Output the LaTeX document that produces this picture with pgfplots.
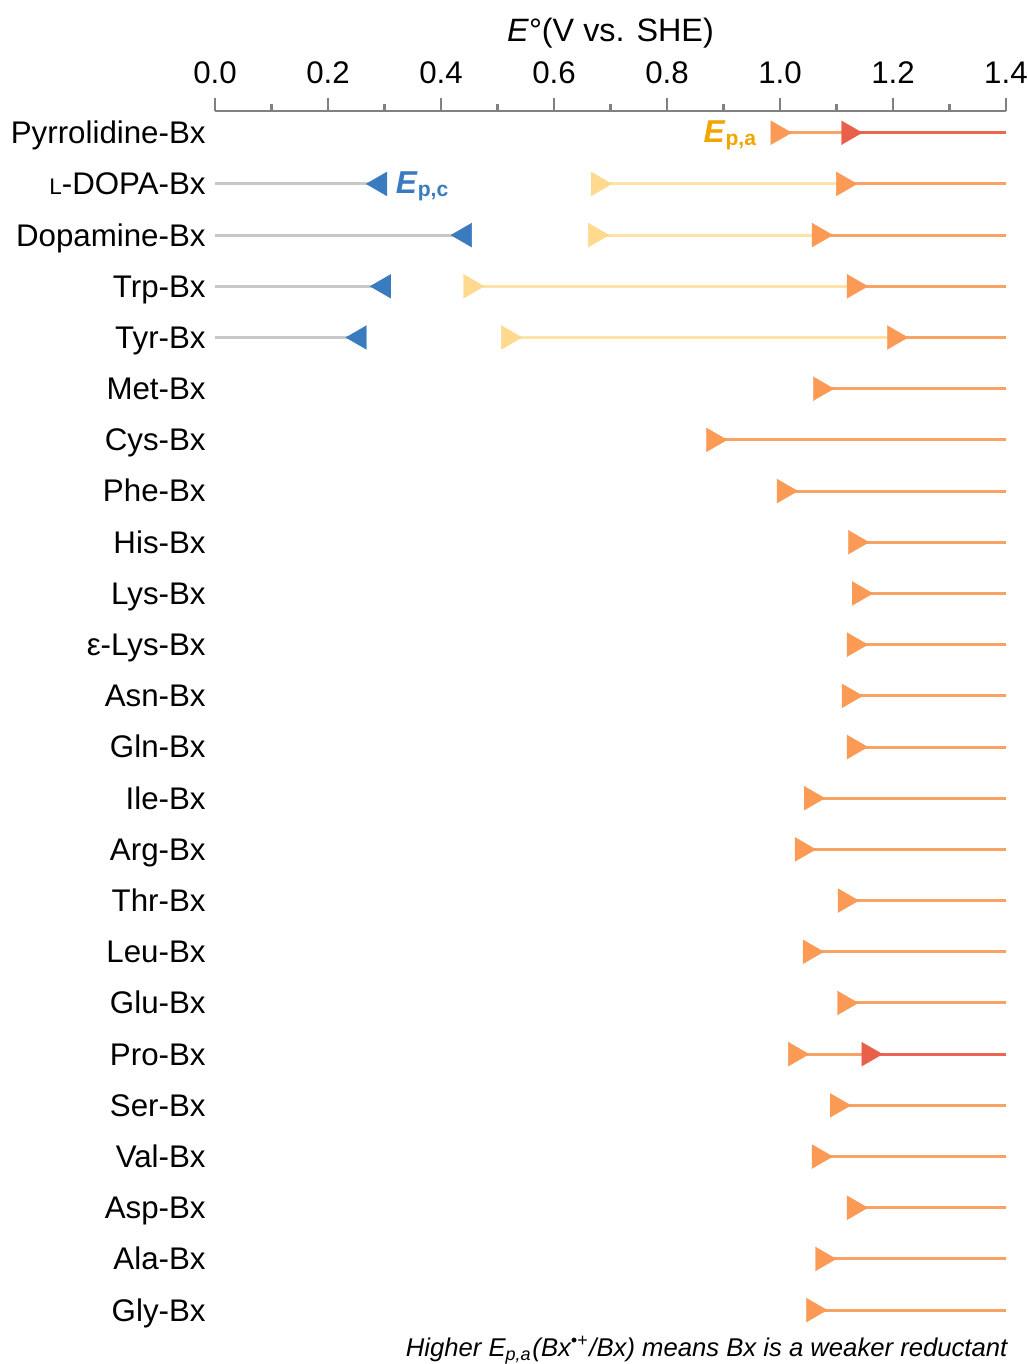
\documentclass[border=0pt]{standalone}
\usepackage{pgfplots}
\pgfplotsset{compat=1.18}
\usepackage{pgfplotstable}
\usepackage{fontspec}
\setmainfont{Liberation Sans}
\definecolor{grayline}{HTML}{C8C8C8}
\definecolor{bluem}{HTML}{3A7BBF}
\definecolor{yelm}{HTML}{FFD98E}
\definecolor{yell}{HTML}{FFE2A6}
\definecolor{orm}{HTML}{FA9A55}
\definecolor{orl}{HTML}{F9A266}
\definecolor{redm}{HTML}{E8604A}
\definecolor{redl}{HTML}{EC6552}
\definecolor{gold}{HTML}{F2A500}
\definecolor{axgray}{HTML}{808080}

% Ep,a (orange markers) for every compound
\pgfplotstableread{
row a
0 0.996
1 1.112
2 1.069
3 1.131
4 1.202
5 1.071
6 0.882
7 1.007
8 1.133
9 1.140
10 1.131
11 1.122
12 1.131
13 1.055
14 1.039
15 1.115
16 1.053
17 1.114
18 1.027
19 1.101
20 1.069
21 1.131
22 1.075
23 1.059
}\adata

% catechol/phenol compounds: Ep,c (blue), first Ep,a (yellow), second Ep,a (orange)
\pgfplotstableread{
row c y a
1 0.292 0.678 1.112
2 0.442 0.673 1.069
3 0.299 0.452 1.131
4 0.256 0.519 1.202
}\bdata

% second, higher Ep,a (red)
\pgfplotstableread{
row r
0 1.121
18 1.157
}\rdata

\begin{document}
\begin{tikzpicture}
\useasboundingbox (-2.15,-0.283) rectangle (8.13,13.357);
\begin{axis}[
  scale only axis, width=7.91cm, height=12.25cm,
  xmin=0, xmax=1.4, ymin=-0.43, ymax=23.5, y dir=reverse,
  axis x line*=top, axis y line*=left,
  y axis line style={draw=none},
  x axis line style={axgray, line width=0.6pt},
  xtick={0,0.2,...,1.4}, minor x tick num=1,
  tick align=outside,
  major tick length=0.13cm, minor tick length=0.07cm,
  tick style={axgray, line width=0.6pt},
  ytick={0,...,23}, ytick style={draw=none},
  yticklabels={Pyrrolidine-Bx,{{\fontsize{6.4}{7}\selectfont L}-DOPA-Bx},Dopamine-Bx,Trp-Bx,Tyr-Bx,Met-Bx,Cys-Bx,Phe-Bx,His-Bx,Lys-Bx,ε-Lys-Bx,Asn-Bx,Gln-Bx,Ile-Bx,Arg-Bx,Thr-Bx,Leu-Bx,Glu-Bx,Pro-Bx,Ser-Bx,Val-Bx,Asp-Bx,Ala-Bx,Gly-Bx},
  /pgf/number format/assume math mode=true,
  xticklabel style={/pgf/number format/.cd, fixed, fixed zerofill, precision=1, /tikz/.cd, font=\fontsize{8.9}{10}\selectfont, text height=6.4pt, text depth=0pt, yshift=0.02cm},
  yticklabel style={font=\fontsize{8.9}{10}\selectfont, text height=6.4pt, text depth=1.9pt, xshift=0.16cm, yshift=-0.03cm},
  clip=false,
]
% lines
\addplot[grayline, line width=0.85pt, quiver={u=\thisrow{c}, v=0}, mark=none] table[x expr=0, y=row]{\bdata};
\addplot[yell, line width=0.85pt, quiver={u=\thisrow{a}-\thisrow{y}, v=0}, mark=none] table[x=y, y=row]{\bdata};
\addplot[orl, line width=0.85pt, quiver={u=1.4-\thisrow{a}, v=0}, mark=none] table[x=a, y=row]{\adata};
\addplot[redl, line width=0.85pt, quiver={u=1.4-\thisrow{r}, v=0}, mark=none] table[x=r, y=row]{\rdata};
% markers
\addplot[only marks, color=bluem, mark=triangle*, mark size=3.9pt, mark options={rotate=90, line width=0.1pt}] table[x=c, y=row]{\bdata};
\addplot[only marks, color=yelm, mark=triangle*, mark size=3.9pt, mark options={rotate=-90, line width=0.1pt}] table[x=y, y=row]{\bdata};
\addplot[only marks, color=orm, mark=triangle*, mark size=3.9pt, mark options={rotate=-90, line width=0.1pt}] table[x=a, y=row]{\adata};
\addplot[only marks, color=redm, mark=triangle*, mark size=3.9pt, mark options={rotate=-90, line width=0.1pt}] table[x=r, y=row]{\rdata};
% annotations
\node[anchor=east, inner sep=0, text=gold, font=\fontsize{9}{10}\selectfont\bfseries] at (axis cs:0.962,0.05) {\textit{E}\textsubscript{p,a}};
\node[anchor=west, inner sep=0, text=bluem, font=\fontsize{9}{10}\selectfont\bfseries] at (axis cs:0.319,1.05) {\textit{E}\textsubscript{p,c}};
\node[inner sep=0, font=\fontsize{9.2}{10}\selectfont] at (axis description cs:0.5,1) [yshift=0.78cm] {\textit{E}°(V vs. SHE)};
\node[anchor=base east, inner sep=0, xshift=0.02cm, yshift=-0.21cm, font=\fontsize{7.3}{9}\selectfont\itshape] at (axis description cs:1,0) {Higher E\textsubscript{p,a}(Bx\textsuperscript{•+}/Bx) means Bx is a weaker reductant};
\end{axis}
\end{tikzpicture}
\end{document}
